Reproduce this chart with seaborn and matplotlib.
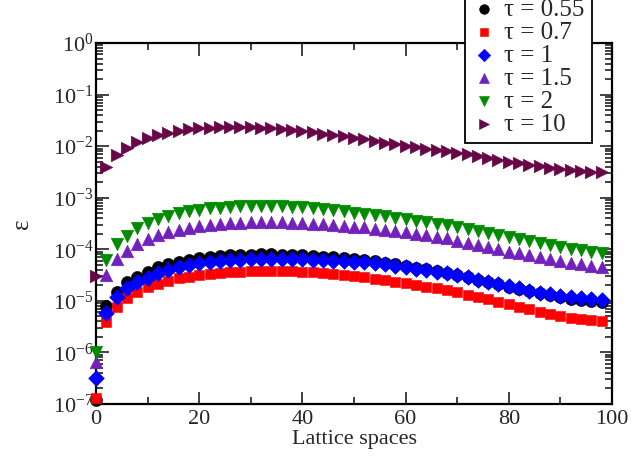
import numpy as np
import pandas as pd
import matplotlib
matplotlib.use("Agg")
import matplotlib.pyplot as plt
from matplotlib.ticker import LogLocator, MultipleLocator, NullFormatter
import seaborn as sns

# lattice positions (every second site)
lattice = np.arange(0, 100, 2)

eps_055 = [1.2e-7, 7.9e-6, 1.51e-5, 2.29e-5, 2.94e-5, 3.67e-5, 4.48e-5, 5.19e-5, 5.74e-5, 6.19e-5,
           6.68e-5, 6.99e-5, 7.41e-5, 7.64e-5, 7.74e-5, 7.85e-5, 7.99e-5, 8.0e-5, 7.92e-5, 7.78e-5,
           7.64e-5, 7.44e-5, 7.24e-5, 7.05e-5, 6.87e-5, 6.54e-5, 6.19e-5, 5.87e-5, 5.54e-5, 5.14e-5,
           4.74e-5, 4.38e-5, 4.11e-5, 3.76e-5, 3.47e-5, 3.17e-5, 2.84e-5, 2.51e-5, 2.30e-5, 2.08e-5,
           1.88e-5, 1.70e-5, 1.52e-5, 1.39e-5, 1.30e-5, 1.19e-5, 1.11e-5, 1.06e-5, 1.00e-5, 9.7e-6]
eps_07 = [1.31e-7, 3.94e-6, 7.7e-6, 1.12e-5, 1.51e-5, 1.83e-5, 2.12e-5, 2.46e-5, 2.74e-5, 2.94e-5,
          3.17e-5, 3.32e-5, 3.52e-5, 3.63e-5, 3.67e-5, 3.79e-5, 3.79e-5, 3.79e-5, 3.79e-5, 3.79e-5,
          3.67e-5, 3.58e-5, 3.42e-5, 3.32e-5, 3.17e-5, 3.03e-5, 2.86e-5, 2.65e-5, 2.54e-5, 2.35e-5,
          2.19e-5, 2.03e-5, 1.88e-5, 1.75e-5, 1.62e-5, 1.47e-5, 1.30e-5, 1.17e-5, 1.07e-5, 9.6e-6,
          8.7e-6, 7.7e-6, 6.86e-6, 6.16e-6, 5.5e-6, 5.0e-6, 4.65e-6, 4.4e-6, 4.2e-6, 4.1e-6]
eps_1 = [3.2e-7, 5.73e-6, 1.17e-5, 1.75e-5, 2.29e-5, 2.81e-5, 3.42e-5, 3.96e-5, 4.59e-5, 4.95e-5,
         5.35e-5, 5.60e-5, 5.93e-5, 6.11e-5, 6.28e-5, 6.39e-5, 6.48e-5, 6.55e-5, 6.48e-5, 6.45e-5,
         6.39e-5, 6.19e-5, 6.15e-5, 6.01e-5, 5.95e-5, 5.74e-5, 5.60e-5, 5.35e-5, 5.12e-5, 4.81e-5,
         4.48e-5, 4.15e-5, 3.96e-5, 3.67e-5, 3.42e-5, 3.17e-5, 2.86e-5, 2.54e-5, 2.35e-5, 2.12e-5,
         1.94e-5, 1.75e-5, 1.57e-5, 1.44e-5, 1.36e-5, 1.24e-5, 1.17e-5, 1.12e-5, 1.07e-5, 1.04e-5]
eps_15 = [6.5e-7, 3.17e-5, 6.39e-5, 9.38e-5, 1.25e-4, 1.56e-4, 1.89e-4, 2.13e-4, 2.37e-4, 2.55e-4,
          2.83e-4, 3.00e-4, 3.09e-4, 3.23e-4, 3.28e-4, 3.34e-4, 3.38e-4, 3.38e-4, 3.31e-4, 3.23e-4,
          3.19e-4, 3.13e-4, 3.05e-4, 3.00e-4, 2.87e-4, 2.74e-4, 2.67e-4, 2.51e-4, 2.37e-4, 2.26e-4,
          2.13e-4, 1.98e-4, 1.89e-4, 1.75e-4, 1.63e-4, 1.47e-4, 1.34e-4, 1.21e-4, 1.09e-4, 1.00e-4,
          8.97e-5, 8.35e-5, 7.74e-5, 6.99e-5, 6.39e-5, 6.01e-5, 5.50e-5, 5.12e-5, 4.81e-5, 4.59e-5]
eps_2 = [1.0e-6, 6.19e-5, 1.24e-4, 1.85e-4, 2.53e-4, 3.24e-4, 3.86e-4, 4.48e-4, 4.99e-4, 5.45e-4,
         5.83e-4, 6.18e-4, 6.46e-4, 6.70e-4, 6.85e-4, 6.97e-4, 7.06e-4, 7.04e-4, 6.91e-4, 6.72e-4,
         6.49e-4, 6.23e-4, 5.96e-4, 5.70e-4, 5.42e-4, 5.16e-4, 4.90e-4, 4.64e-4, 4.38e-4, 4.13e-4,
         3.88e-4, 3.61e-4, 3.35e-4, 3.13e-4, 2.92e-4, 2.67e-4, 2.47e-4, 2.26e-4, 2.09e-4, 1.89e-4,
         1.73e-4, 1.58e-4, 1.45e-4, 1.32e-4, 1.21e-4, 1.12e-4, 1.03e-4, 9.6e-5, 9.0e-5, 8.6e-5]
eps_10 = [3.0e-5, 3.94e-3, 6.73e-3, 9.2e-3, 1.20e-2, 1.42e-2, 1.64e-2, 1.82e-2, 1.99e-2, 2.12e-2,
          2.22e-2, 2.28e-2, 2.31e-2, 2.32e-2, 2.32e-2, 2.31e-2, 2.28e-2, 2.22e-2, 2.15e-2, 2.06e-2,
          1.94e-2, 1.85e-2, 1.74e-2, 1.64e-2, 1.55e-2, 1.44e-2, 1.36e-2, 1.26e-2, 1.17e-2, 1.09e-2,
          1.02e-2, 9.5e-3, 8.8e-3, 8.3e-3, 7.9e-3, 7.5e-3, 6.95e-3, 6.4e-3, 5.9e-3, 5.4e-3,
          5.0e-3, 4.65e-3, 4.3e-3, 4.03e-3, 3.77e-3, 3.56e-3, 3.4e-3, 3.27e-3, 3.18e-3, 3.11e-3]

labels = ["τ = 0.55", "τ = 0.7", "τ = 1", "τ = 1.5", "τ = 2", "τ = 10"]
series = [eps_055, eps_07, eps_1, eps_15, eps_2, eps_10]
colors = ["#000000", "#ff0000", "#0000ff", "#7221bc", "#008b00", "#670748"]
markers = ["o", "s", "D", "^", "v", ">"]
sizes = [76, 56, 64, 82, 82, 82]

sns.set_style("ticks")
plt.rcParams["font.family"] = ["Liberation Serif", "DejaVu Serif"]
plt.rcParams["mathtext.fontset"] = "custom"
plt.rcParams["mathtext.rm"] = "Liberation Serif"
plt.rcParams["mathtext.it"] = "Liberation Serif"
plt.rcParams["mathtext.default"] = "regular"

fig = plt.figure(figsize=(6.32, 4.61), dpi=100)
ax = fig.add_axes([96 / 632, 57 / 461, 516 / 632, 361 / 461])

for lab, vals, c, m, s in zip(labels, series, colors, markers, sizes):
    df = pd.DataFrame({"x": lattice, "eps": vals})
    sns.scatterplot(data=df, x="x", y="eps", ax=ax, color=c, marker=m, s=s,
                    edgecolor=c, linewidth=0.4, label=lab, clip_on=False, zorder=3)

ax.set_yscale("log")
ax.set_xlim(0, 100)
ax.set_ylim(1e-7, 1)
ax.xaxis.set_major_locator(MultipleLocator(20))
ax.xaxis.set_minor_locator(MultipleLocator(10))
ax.yaxis.set_major_locator(LogLocator(base=10, numticks=10))
ax.yaxis.set_minor_locator(LogLocator(base=10, subs=np.arange(2, 10), numticks=20))
ax.yaxis.set_minor_formatter(NullFormatter())

ax.tick_params(which="both", direction="in", top=True, right=True, width=1.3, color="#333333")
ax.tick_params(which="major", length=9)
ax.tick_params(which="minor", length=5)
ax.tick_params(axis="y", which="major", labelsize=16, pad=2)
ax.tick_params(axis="x", which="major", labelsize=16, pad=4)
for sp in ax.spines.values():
    sp.set_linewidth(1.6)
    sp.set_color("black")

ax.set_xlabel("Lattice spaces", fontsize=16, labelpad=1)
ax.set_ylabel("ε", fontsize=18, labelpad=14)

leg = ax.legend(loc="lower right", bbox_to_anchor=(592 / 632, 318 / 461),
                bbox_transform=fig.transFigure, fontsize=18, frameon=True,
                fancybox=False, framealpha=1, edgecolor="black",
                labelspacing=0.02, handlelength=0.9, handletextpad=0.35,
                borderpad=0.3, borderaxespad=0, markerscale=0.8)
leg.get_frame().set_linewidth(1.3)

fig.savefig("out.png", dpi=100)
